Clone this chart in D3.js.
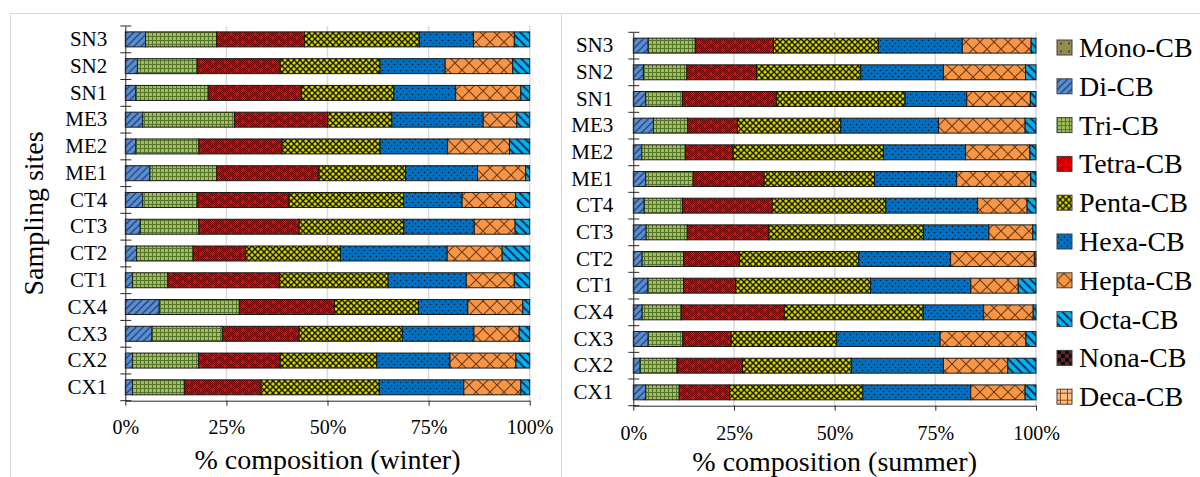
<!DOCTYPE html>
<html>
<head>
<meta charset="utf-8">
<script src="https://cdn.jsdelivr.net/npm/d3@7"></script>
<style>
    body { margin: 0; background: #fff; }
    svg { font-family: "Liberation Serif", "Times New Roman", serif; display: block; }
</style>
</head>
<body>
<div id="chart"></div>
<script>
// sampling sites, top to bottom as drawn
const sites = ["SN3", "SN2", "SN1", "ME3", "ME2", "ME1", "CT4", "CT3", "CT2", "CT1", "CX4", "CX3", "CX2", "CX1"];
const congeners = ["Mono-CB", "Di-CB", "Tri-CB", "Tetra-CB", "Penta-CB", "Hexa-CB", "Hepta-CB", "Octa-CB", "Nona-CB", "Deca-CB"];
const xTicks = [0, 25, 50, 75, 100];

// % composition, one row per site (same order as sites), columns follow congeners
const winterValues = [
    [0, 5.0, 17.6, 21.7, 28.4, 13.4, 10.1, 3.8, 0, 0],
    [0, 3.0, 14.8, 20.5, 24.7, 16.1, 16.7, 4.2, 0, 0],
    [0, 2.6, 17.9, 23.1, 22.8, 15.3, 16.1, 2.2, 0, 0],
    [0, 4.3, 22.7, 23.0, 15.9, 22.6, 8.3, 3.2, 0, 0],
    [0, 2.6, 15.6, 20.6, 24.2, 16.7, 15.3, 5.0, 0, 0],
    [0, 6.1, 16.5, 25.3, 21.4, 17.8, 11.9, 1.0, 0, 0],
    [0, 4.3, 13.5, 22.7, 28.3, 14.5, 13.2, 3.5, 0, 0],
    [0, 3.7, 14.5, 24.8, 25.9, 17.4, 10.1, 3.6, 0, 0],
    [0, 2.8, 14.0, 13.0, 23.4, 26.4, 13.6, 6.8, 0, 0],
    [0, 1.8, 8.7, 27.6, 26.9, 19.3, 11.9, 3.8, 0, 0],
    [0, 8.4, 19.8, 23.5, 20.8, 12.2, 13.6, 1.7, 0, 0],
    [0, 6.6, 17.4, 19.0, 25.5, 17.7, 11.2, 2.6, 0, 0],
    [0, 1.8, 16.3, 20.2, 23.9, 18.1, 16.3, 3.4, 0, 0],
    [0, 1.8, 12.8, 19.0, 29.2, 20.9, 14.1, 2.2, 0, 0]
];

const summerValues = [
    [0, 3.7, 11.7, 19.4, 26.1, 20.8, 17.1, 1.2, 0, 0],
    [0, 2.5, 10.8, 17.3, 25.9, 20.5, 20.4, 2.6, 0, 0],
    [0, 3.1, 9.1, 23.4, 31.9, 15.3, 15.8, 1.4, 0, 0],
    [0, 5.0, 8.5, 12.4, 25.6, 24.3, 21.5, 2.7, 0, 0],
    [0, 2.1, 10.9, 11.8, 37.3, 20.4, 16.0, 1.5, 0, 0],
    [0, 3.1, 11.8, 17.6, 27.4, 20.4, 18.4, 1.3, 0, 0],
    [0, 2.7, 9.5, 22.3, 28.2, 22.8, 12.3, 2.2, 0, 0],
    [0, 3.2, 10.2, 20.2, 38.5, 16.2, 10.9, 0.8, 0, 0],
    [0, 2.2, 10.3, 13.9, 29.6, 22.8, 20.8, 0.4, 0, 0],
    [0, 3.6, 8.9, 12.9, 33.5, 24.9, 11.8, 4.4, 0, 0],
    [0, 2.2, 9.7, 25.6, 34.5, 15.0, 12.3, 0.7, 0, 0],
    [0, 3.7, 8.6, 12.0, 26.2, 25.7, 21.3, 2.5, 0, 0],
    [0, 1.7, 9.2, 16.2, 27.1, 22.8, 16.0, 7.0, 0, 0],
    [0, 3.1, 8.3, 12.5, 33.1, 26.8, 13.5, 2.7, 0, 0]
];

const svg = d3.select("#chart").append("svg").attr("width", 1200).attr("height", 477);
const defs = svg.append("defs");

// excel-ish fill patterns, one per congener
function addPattern(id, w, h, bg, draw, transform){
    let p = defs.append("pattern")
                .attr("id", id)
                .attr("patternUnits", "userSpaceOnUse")
                .attr("width", w)
                .attr("height", h);
    if(transform) p.attr("patternTransform", transform);
    p.append("rect").attr("width", w).attr("height", h).attr("fill", bg);
    draw(p);
}

addPattern("chk", 2, 2, "#f00000", p => {
    p.append("rect").attr("width", 1).attr("height", 1).attr("fill", "#6a0000");
    p.append("rect").attr("x", 1).attr("y", 1).attr("width", 1).attr("height", 1).attr("fill", "#6a0000");
});

const patternDraw = [
    // Mono
    ["#948a54", 8, 8, p => p.append("circle").attr("cx", 4).attr("cy", 4).attr("r", 0.9).attr("fill", "#2e2a18")],
    // Di
    ["#5b8fd3", 5, 5, p => p.append("path").attr("d", "M2.5,0V5").attr("stroke", "#1f3e73").attr("stroke-width", 1.3), "rotate(45)"],
    // Tri
    ["#9fbf5f", 4, 4, p => p.append("path").attr("d", "M0,0.5H4M0.5,0V4").attr("stroke", "#56752a").attr("stroke-width", 1)],
    // Tetra
    ["#c00000", 12, 8, p => {
        p.append("rect").attr("width", 12).attr("height", 8).attr("fill", "url(#chk)");
        p.append("path").attr("d", "M1.5,2H4.5M3,0.5V3.5M7.5,6H10.5M9,4.5V7.5").attr("stroke", "#ff1010").attr("stroke-width", 1);
    }],
    // Penta
    ["#d4d400", 6, 6, p => p.append("path").attr("d", "M0,0L6,6M6,0L0,6").attr("stroke", "#1a1a00").attr("stroke-width", 1.4)],
    // Hexa
    ["#0070c0", 6, 6, p => {
        p.append("circle").attr("cx", 1.5).attr("cy", 1.5).attr("r", 0.75).attr("fill", "#001a33");
        p.append("circle").attr("cx", 4.5).attr("cy", 4.5).attr("r", 0.75).attr("fill", "#001a33");
    }],
    // Hepta
    ["#f79646", 14, 14, p => p.append("path").attr("d", "M0,0L14,14M14,0L0,14").attr("stroke", "#6e3a12").attr("stroke-width", 1.1)],
    // Octa
    ["#00b0f0", 6, 6, p => p.append("path").attr("d", "M3,0V6").attr("stroke", "#17375e").attr("stroke-width", 2), "rotate(-45)"],
    // Nona
    ["#632523", 8, 8, p => {
        p.append("rect").attr("width", 4).attr("height", 4).attr("fill", "#0d0d0d");
        p.append("rect").attr("x", 4).attr("y", 4).attr("width", 4).attr("height", 4).attr("fill", "#0d0d0d");
    }],
    // Deca
    ["#fac090", 7, 7, p => p.append("path").attr("d", "M3.5,0V7M0,3.5H7").attr("stroke", "#974806").attr("stroke-width", 1)]
];

patternDraw.forEach((d, i) => addPattern("pat-" + i, d[1], d[2], d[0], d[3], d[4]));


class CompositionChart {
    constructor(values, box, title){
        this.values = values;
        this.box = box;          // plot area, page pixels
        this.title = title;
        this.xScale;
        this.yScale;
        this.chartGroup;
    }

    init(){
        this.xScale = d3.scaleLinear().domain([0, 100]).range([this.box.left, this.box.right]);
        this.yScale = d3.scaleBand().domain(sites)
                        .range([this.box.top, this.box.bottom])
                        .paddingInner(0.44)
                        .paddingOuter(0.22);
        this.chartGroup = svg.append("g").attr("class", "group-chart");
    }

    table(){
        return this.values.map((row, i) => {
            let d = {site: sites[i]};
            congeners.forEach((c, j) => d[c] = row[j]);
            return d;
        });
    }

    draw(){
        let x = this.xScale, y = this.yScale, b = this.box;

        // grid
        this.chartGroup.append("g").selectAll("line")
            .data(xTicks.filter(t => t > 0))
            .enter().append("line")
            .attr("x1", d => x(d)).attr("x2", d => x(d))
            .attr("y1", b.top).attr("y2", b.bottom)
            .attr("stroke", "#d9d9d9").attr("stroke-width", 1.5);

        // stacked bars
        let series = d3.stack().keys(congeners)(this.table());
        this.chartGroup.append("g").selectAll("g")
            .data(series)
            .enter().append("g")
            .attr("fill", (d, i) => "url(#pat-" + i + ")")
            .selectAll("rect")
            .data(d => d.filter(s => s[1] - s[0] > 0))
            .enter().append("rect")
            .attr("x", d => x(d[0]))
            .attr("width", d => x(d[1]) - x(d[0]))
            .attr("y", d => y(d.data.site))
            .attr("height", y.bandwidth())
            .attr("stroke", "#1a1a1a")
            .attr("stroke-width", 1);

        // x axis
        let xAxis = d3.axisBottom(x).tickValues(xTicks).tickFormat(d => d + "%")
                        .tickSize(5).tickSizeOuter(0).tickPadding(b.xPad);
        let gx = this.chartGroup.append("g")
                .attr("class", "axis axis-x")
                .attr("transform", "translate(0," + b.bottom + ")")
                .call(xAxis)
                .attr("font-family", null)
                .attr("font-size", 20);
        gx.selectAll("text").attr("fill", "#000");
        gx.selectAll("line, path").attr("stroke", "#262626");

        // y axis, labels at band centres, cross ticks at band edges
        let yAxis = d3.axisLeft(y).tickSize(0).tickPadding(b.yPad);
        let gy = this.chartGroup.append("g")
                .attr("class", "axis axis-y")
                .attr("transform", "translate(" + b.left + ",0)")
                .call(yAxis)
                .attr("font-family", null)
                .attr("font-size", 21);
        gy.selectAll("text").attr("fill", "#000");
        gy.select("path").attr("stroke", "#262626");
        gy.selectAll(".edge").data(d3.range(sites.length + 1))
            .enter().append("line")
            .attr("class", "edge")
            .attr("x1", -5).attr("x2", 6)
            .attr("y1", i => b.top + i * y.step())
            .attr("y2", i => b.top + i * y.step())
            .attr("stroke", "#262626");

        this.chartGroup.append("text")
            .attr("x", (b.left + b.right) / 2)
            .attr("y", b.titleY)
            .attr("text-anchor", "middle")
            .attr("font-size", 28)
            .text(this.title);
    }
}

// chart frames
svg.append("rect").attr("x", 10.5).attr("y", 13.5).attr("width", 551).attr("height", 480)
    .attr("fill", "none").attr("stroke", "#d9d9d9");
svg.append("rect").attr("x", 561.5).attr("y", 13.5).attr("width", 660).attr("height", 480)
    .attr("fill", "none").attr("stroke", "#d9d9d9");

let winter = new CompositionChart(winterValues,
    {left: 125.3, right: 529.7, top: 26, bottom: 400.7, xPad: 14, yPad: 18, titleY: 469},
    "% composition (winter)");
winter.init();
winter.draw();

let summer = new CompositionChart(summerValues,
    {left: 633.3, right: 1036, top: 32.3, bottom: 405.7, xPad: 15, yPad: 20, titleY: 471},
    "% composition (summer)");
summer.init();
summer.draw();

svg.append("text")
    .attr("transform", "translate(43,213.4) rotate(-90)")
    .attr("text-anchor", "middle")
    .attr("font-size", 28)
    .text("Sampling sites");

// legend
let legend = svg.append("g").attr("class", "legend");
let rows = legend.selectAll("g").data(congeners).enter().append("g")
            .attr("transform", (d, i) => "translate(1057," + (47.5 + i * 38.8) + ")");
rows.append("rect")
    .attr("x", 0).attr("y", -7.5).attr("width", 15).attr("height", 15)
    .attr("fill", (d, i) => "url(#pat-" + i + ")")
    .attr("stroke", "#404040");
rows.append("text")
    .attr("x", 22).attr("y", 9.5)
    .attr("font-size", 28)
    .text(d => d);
</script>
</body>
</html>
